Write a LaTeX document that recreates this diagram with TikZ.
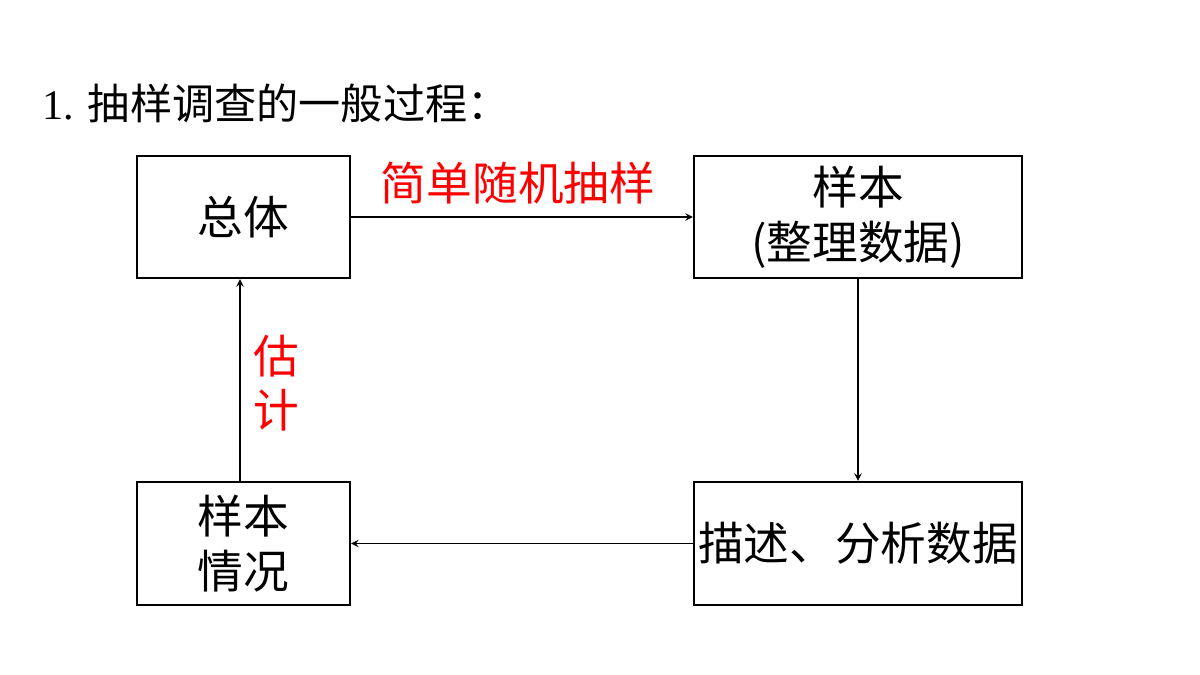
\documentclass[tikz,border=0pt]{standalone}
\usepackage{fontspec}
\setmainfont{Liberation Serif}
\newfontfamily\cjk{Noto Sans CJK SC}
\begin{document}
\begin{tikzpicture}[x=0.02cm,y=-0.02cm,
  box/.style={draw,line width=1.2pt,inner sep=0pt,font=\cjk\fontsize{26}{31}\selectfont,align=center},
  arr/.style={->,line width=0.9pt,>=stealth},
  lab/.style={text=red,font=\cjk\fontsize{26}{31}\selectfont}]
\useasboundingbox (0,0) rectangle (1200,675);
\node[anchor=west,font=\fontsize{24}{29}\selectfont] (t) at (36,103) {1. {\cjk 抽样调查的一般过程：}};
\node[box,minimum width=213*0.02cm,minimum height=122*0.02cm] (a) at (243.5,217) {总体};
\node[box,minimum width=328*0.02cm,minimum height=122*0.02cm] (b) at (858,217) {样本\\(整理数据)};
\node[box,minimum width=213*0.02cm,minimum height=123*0.02cm] (d) at (243.5,543.5) {样本\\情况};
\node[box,minimum width=328*0.02cm,minimum height=123*0.02cm] (c) at (858,543.5) {描述、分析数据};
\draw[arr] (a.east) -- (b.west);
\draw[arr] (b.south) -- (c.north);
\draw[arr] (c.west) -- (d.east);
\draw[arr] (d.north -| 240,0) -- (a.south -| 240,0);
\node[lab] (l1) at (518,183) {简单随机抽样};
\node[lab,align=center] (l2) at (276,383) {估\\计};
\end{tikzpicture}
\end{document}
